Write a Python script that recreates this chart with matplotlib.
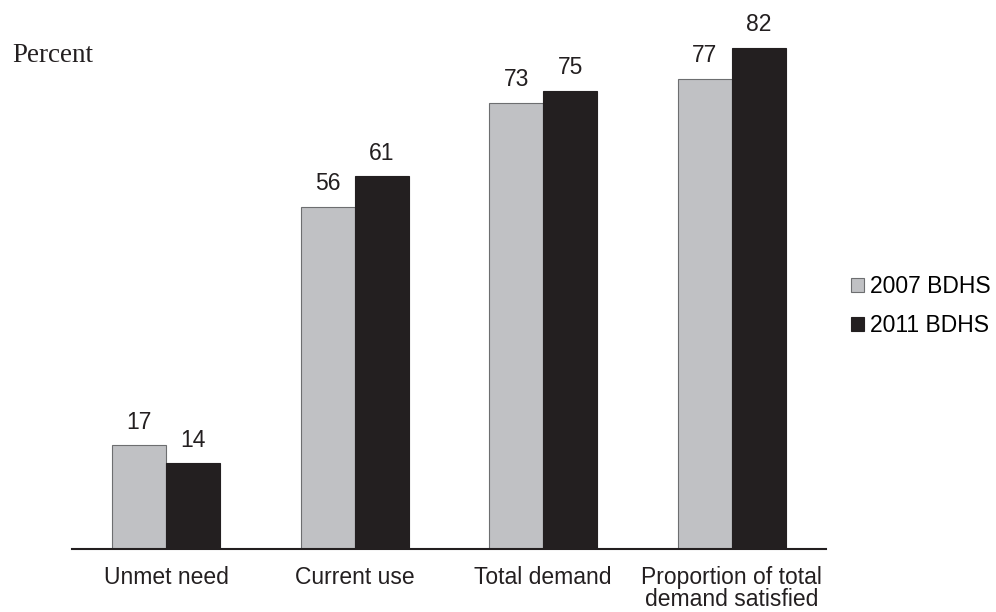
import matplotlib.pyplot as plt
import numpy as np

categories = ['Unmet need', 'Current use', 'Total demand', 'Proportion of total\ndemand satisfied']
bdhs_2007 = [17, 56, 73, 77]
bdhs_2011 = [14, 61, 75, 82]
series_names = ['2007 BDHS', '2011 BDHS']

plt.rcParams['font.family'] = ['Liberation Sans', 'DejaVu Sans']

fig = plt.figure(figsize=(9.96, 6.12), dpi=100)
ax = fig.add_axes([72/996, 1 - 549/612, 754/996, 549/612 - 0.01])

x = np.arange(len(categories))
w = 0.287
b1 = ax.bar(x - w/2, bdhs_2007, w, color='#c0c1c4', edgecolor='#6d6e70', linewidth=0.8, label=series_names[0])
b2 = ax.bar(x + w/2, bdhs_2011, w, color='#231f20', edgecolor='#231f20', linewidth=0.8, label=series_names[1])

# value labels above each bar
for bars in (b1, b2):
    for r in bars:
        ax.text(r.get_x() + r.get_width()/2, r.get_height() + 1.9, f'{int(r.get_height())}',
                ha='center', va='bottom', fontsize=16.5, color='#231f20')

ax.set_xlim(-0.5, 3.5)
ax.set_ylim(0, 549 / 6.11 * (1 - 0.01 * 612 / 549))
ax.set_xticks(x)
ax.set_xticklabels(categories, fontsize=16.5, color='#231f20', linespacing=0.95)
ax.tick_params(axis='x', length=0, pad=12)
ax.set_yticks([])
for s in ['top', 'right', 'left']:
    ax.spines[s].set_visible(False)
ax.spines['bottom'].set_color('#231f20')
ax.spines['bottom'].set_linewidth(1.5)

fig.text(12/996, 1 - 55/612, 'Percent', family='Liberation Serif', fontsize=19.5, va='center', color='#231f20')

fig.legend(handles=[b1, b2], loc='center left', bbox_to_anchor=(851/996, 1 - 306/612),
           frameon=False, fontsize=16.5, handlelength=0.55, handleheight=0.55, handletextpad=0.3,
           labelspacing=0.7, borderaxespad=0, borderpad=0)

fig.savefig('out.png', dpi=100)
